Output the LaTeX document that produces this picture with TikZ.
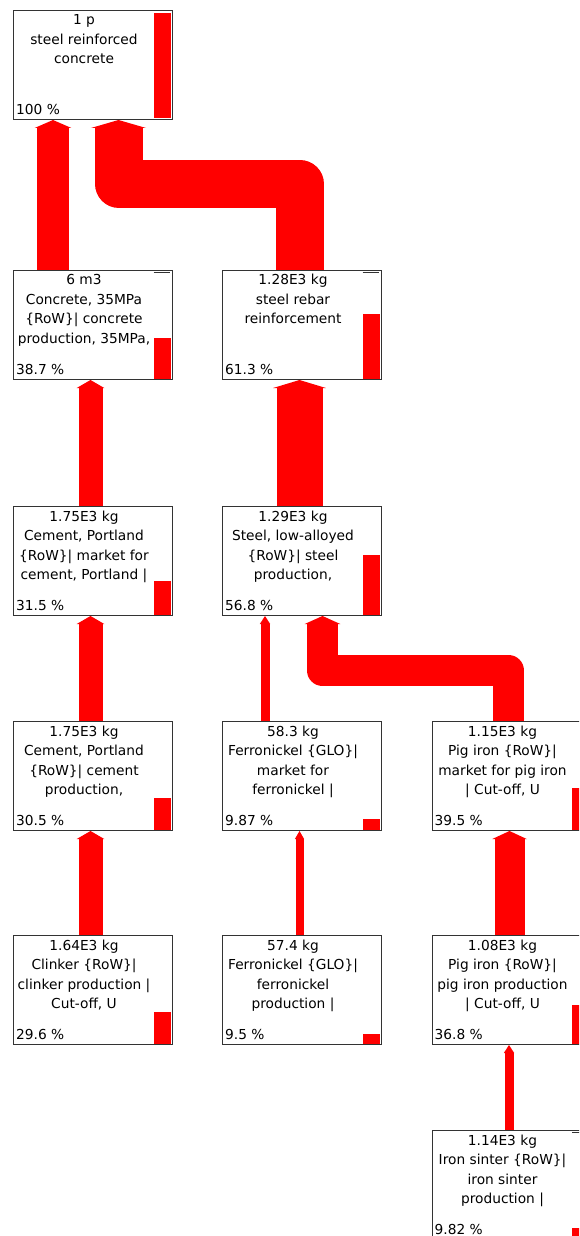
\documentclass[tikz,border=0pt]{standalone}
\usepackage{fontspec}
\setmainfont{DejaVu Sans}
\usetikzlibrary{arrows.meta}

\tikzset{
  box/.style={draw=black!80, line width=1pt, fill=white, minimum width=158.5pt, minimum height=109pt, anchor=north west, inner sep=0pt},
  lbl/.style={font=\fontsize{13.75}{19.5}\selectfont, align=center, anchor=north, inner sep=0pt, execute at begin node=\strut},
  pct/.style={font=\fontsize{13.75}{19.5}\selectfont, anchor=base west, inner sep=0pt},
  flowline/.style={draw=red, line width=#1, line join=round, -{Triangle[length=8pt, width=0pt 1.15, line width=0pt]}},
}

\begin{document}
\begin{tikzpicture}[x=1pt,y=-1pt]
\useasboundingbox (0,0) rectangle (579,1236);
\clip (0,0) rectangle (579,1236);

% process boxes
\foreach \n/\x/\y in {top/13/10,concrete/13/270,rebar/222/270,cementmkt/13/506,steellow/222/506,cementprod/13/721,fenimkt/222/721,pigmkt/431.5/721,clinker/13/935,feniprod/222/935,pigprod/431.5/935,sinter/431.5/1130} {
\node[box] (\n) at (\x,\y) {};
}

% share bars
\foreach \n/\h in {top/105,concrete/40.6,rebar/64.4,cementmkt/33.1,steellow/59.6,cementprod/32,fenimkt/10.4,pigmkt/41.5,clinker/31.1,feniprod/10,pigprod/38.6,sinter/10.3} {
\fill[red] ([xshift=-19pt,yshift=1.5pt]\n.south east) rectangle ([xshift=-1.5pt,yshift=1.5pt+\h pt]\n.south east);
}
\foreach \n in {concrete,rebar,sinter} {
\draw[black!80] ([xshift=-19pt,yshift=-2.3pt]\n.north east) -- ([xshift=-2.5pt,yshift=-2.3pt]\n.north east);
}

% labels
\node[lbl] (top-t) at ([xshift=71pt,yshift=-4.35pt]top.north west) {1 p\\steel reinforced\\concrete};
\node[pct] (top-p) at ([xshift=3pt,yshift=6pt]top.south west) {100 \%};

\node[lbl] (concrete-t) at ([xshift=71pt,yshift=-4.35pt]concrete.north west) {6 m3\\Concrete, 35MPa\\\{RoW\}| concrete\\production, 35MPa,};
\node[pct] (concrete-p) at ([xshift=3pt,yshift=6pt]concrete.south west) {38.7 \%};

\node[lbl] (rebar-t) at ([xshift=71pt,yshift=-4.35pt]rebar.north west) {1.28E3 kg\\steel rebar\\reinforcement};
\node[pct] (rebar-p) at ([xshift=3pt,yshift=6pt]rebar.south west) {61.3 \%};

\node[lbl] (cementmkt-t) at ([xshift=71pt,yshift=-4.35pt]cementmkt.north west) {1.75E3 kg\\Cement, Portland\\\{RoW\}| market for\\cement, Portland |};
\node[pct] (cementmkt-p) at ([xshift=3pt,yshift=6pt]cementmkt.south west) {31.5 \%};

\node[lbl] (steellow-t) at ([xshift=71pt,yshift=-4.35pt]steellow.north west) {1.29E3 kg\\Steel, low-alloyed\\\{RoW\}| steel\\production,};
\node[pct] (steellow-p) at ([xshift=3pt,yshift=6pt]steellow.south west) {56.8 \%};

\node[lbl] (cementprod-t) at ([xshift=71pt,yshift=-4.35pt]cementprod.north west) {1.75E3 kg\\Cement, Portland\\\{RoW\}| cement\\production,};
\node[pct] (cementprod-p) at ([xshift=3pt,yshift=6pt]cementprod.south west) {30.5 \%};

\node[lbl] (fenimkt-t) at ([xshift=71pt,yshift=-4.35pt]fenimkt.north west) {58.3 kg\\Ferronickel \{GLO\}|\\market for\\ferronickel |};
\node[pct] (fenimkt-p) at ([xshift=3pt,yshift=6pt]fenimkt.south west) {9.87 \%};

\node[lbl] (pigmkt-t) at ([xshift=71pt,yshift=-4.35pt]pigmkt.north west) {1.15E3 kg\\Pig iron \{RoW\}|\\market for pig iron\\| Cut-off, U};
\node[pct] (pigmkt-p) at ([xshift=3pt,yshift=6pt]pigmkt.south west) {39.5 \%};

\node[lbl] (clinker-t) at ([xshift=71pt,yshift=-4.35pt]clinker.north west) {1.64E3 kg\\Clinker \{RoW\}|\\clinker production |\\Cut-off, U};
\node[pct] (clinker-p) at ([xshift=3pt,yshift=6pt]clinker.south west) {29.6 \%};

\node[lbl] (feniprod-t) at ([xshift=71pt,yshift=-4.35pt]feniprod.north west) {57.4 kg\\Ferronickel \{GLO\}|\\ferronickel\\production |};
\node[pct] (feniprod-p) at ([xshift=3pt,yshift=6pt]feniprod.south west) {9.5 \%};

\node[lbl] (pigprod-t) at ([xshift=71pt,yshift=-4.35pt]pigprod.north west) {1.08E3 kg\\Pig iron \{RoW\}|\\pig iron production\\| Cut-off, U};
\node[pct] (pigprod-p) at ([xshift=3pt,yshift=6pt]pigprod.south west) {36.8 \%};

\node[lbl] (sinter-t) at ([xshift=71pt,yshift=-4.35pt]sinter.north west) {1.14E3 kg\\Iron sinter \{RoW\}|\\iron sinter\\production |};
\node[pct] (sinter-p) at ([xshift=3pt,yshift=6pt]sinter.south west) {9.82 \%};

% flows
\coordinate (rb) at (118.5,183.5);
\coordinate (pb) at (322.5,670.5);
\draw[flowline=32pt] ([xshift=-39.75pt]concrete.north) -- ([xshift=-39.75pt]top.south);
\draw[flowline=48pt] ([xshift=-2.25pt]rebar.north) |- (rb) -- (rb |- top.south);
\draw[flowline=24pt] ([xshift=-2.25pt]cementmkt.north) -- ([xshift=-2.25pt]concrete.south);
\draw[flowline=46pt] ([xshift=-2.25pt]steellow.north) -- ([xshift=-2.25pt]rebar.south);
\draw[flowline=24pt] ([xshift=-2.25pt]cementprod.north) -- ([xshift=-2.25pt]cementmkt.south);
\draw[flowline=9pt] ([xshift=-36.75pt]fenimkt.north) -- ([xshift=-36.75pt]steellow.south);
\draw[flowline=31pt] ([xshift=-2.75pt]pigmkt.north) |- (pb) -- (pb |- steellow.south);
\draw[flowline=24pt] ([xshift=-2.25pt]clinker.north) -- ([xshift=-2.25pt]cementprod.south);
\draw[flowline=8pt] ([xshift=-2.25pt]feniprod.north) -- ([xshift=-2.25pt]fenimkt.south);
\draw[flowline=30pt] ([xshift=-1.75pt]pigprod.north) -- ([xshift=-1.75pt]pigmkt.south);
\draw[flowline=9pt] ([xshift=-2.25pt]sinter.north) -- ([xshift=-2.25pt]pigprod.south);
\end{tikzpicture}
\end{document}
